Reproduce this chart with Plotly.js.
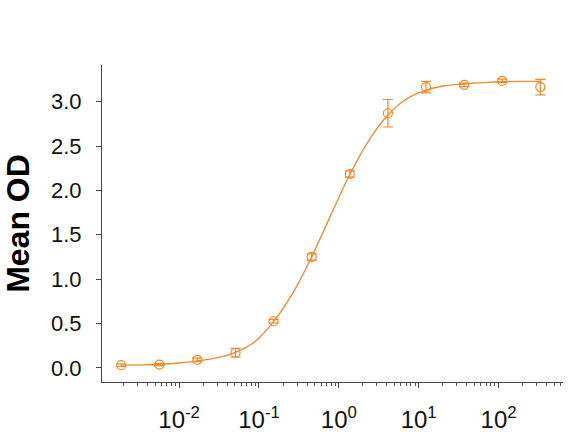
<!DOCTYPE html>
<html>
<head>
<meta charset="utf-8">
<script src="https://cdn.plot.ly/plotly-3.0.1.min.js"></script>
<style>html,body{margin:0;padding:0;background:#fff;}#chart{width:588px;height:437px;}</style>
</head>
<body>
<div id="chart"></div>
<script>
// Measured data (concentration, mean OD, error)
var concentration = [0.00188, 0.00565, 0.0169, 0.0508, 0.152, 0.457, 1.372, 4.115, 12.35, 37.04, 111.1, 333.3];
var meanOD        = [0.03, 0.037, 0.09, 0.17, 0.525, 1.25, 2.185, 2.87, 3.165, 3.19, 3.235, 3.165];
var errorOD       = [0.015, 0.012, 0.02, 0.05, 0.02, 0.035, 0.035, 0.155, 0.065, 0.02, 0.02, 0.087];

// Fitted curve
var curveX = [0.00188, 0.0035, 0.00565, 0.01, 0.0169, 0.03, 0.0508, 0.09, 0.152, 0.26, 0.457, 0.8, 1.372, 2.4, 4.115, 7, 12.35, 21, 37.04, 65, 111.1, 200, 333.3];
var curveY = [0.03, 0.034, 0.04, 0.054, 0.078, 0.115, 0.175, 0.30, 0.52, 0.83, 1.25, 1.73, 2.18, 2.57, 2.85, 3.03, 3.13, 3.18, 3.20, 3.215, 3.225, 3.23, 3.23];

var xTickVals = [0.01, 0.1, 1, 10, 100];
var xTickText = ['10<sup>-2</sup>', '10<sup>-1</sup>', '10<sup>0</sup>', '10<sup>1</sup>', '10<sup>2</sup>'];
var yTickVals = [0.0, 0.5, 1.0, 1.5, 2.0, 2.5, 3.0];
var yTickText = ['0.0', '0.5', '1.0', '1.5', '2.0', '2.5', '3.0'];

var color = '#EF8B2C';

var minorVals = [];
[-3, -2, -1, 0, 1, 2].forEach(function (e) {
  for (var m = 2; m <= 9; m++) minorVals.push(m * Math.pow(10, e));
});

var traces = [
  {
    x: curveX, y: curveY, type: 'scatter', mode: 'lines',
    line: {color: color, width: 1.3, shape: 'spline', smoothing: 1},
    hoverinfo: 'skip', showlegend: false
  },
  {
    x: concentration, y: meanOD, type: 'scatter', mode: 'markers',
    marker: {symbol: 'circle-open', size: 9, color: color, line: {color: color, width: 1.2}},
    error_y: {type: 'data', array: errorOD, visible: true, color: color, thickness: 1.2, width: 5},
    showlegend: false
  }
];

var layout = {
  width: 588, height: 437,
  margin: {l: 102, r: 25, t: 65, b: 55},
  paper_bgcolor: '#ffffff', plot_bgcolor: '#ffffff',
  showlegend: false,
  font: {family: 'Liberation Sans, Arial, sans-serif', color: '#111111'},
  xaxis: {
    type: 'log',
    range: [-2.966, 2.807],
    tickmode: 'array',
    tickvals: xTickVals,
    ticktext: xTickText,
    showgrid: false, zeroline: false,
    showline: true, linecolor: '#444444', linewidth: 1,
    ticks: 'outside', ticklen: 5, tickcolor: '#444444',
    ticklabelstandoff: 11,
    tickfont: {size: 24, color: '#111111'},
    minor: {ticks: 'outside', ticklen: 3, tickcolor: '#555555', tickmode: 'array', tickvals: minorVals, showgrid: false}
  },
  yaxis: {
    range: [-0.16, 3.414],
    tickmode: 'array',
    tickvals: yTickVals,
    ticktext: yTickText,
    showgrid: false, zeroline: false,
    showline: true, linecolor: '#444444', linewidth: 1,
    ticks: 'outside', ticklen: 5, tickcolor: '#444444',
    ticklabelstandoff: 10,
    tickfont: {size: 22, color: '#111111'},
    title: {text: '<b>Mean OD</b>', font: {size: 32, color: '#000000'}, standoff: 20}
  }
};

Plotly.newPlot('chart', traces, layout, {displayModeBar: false, staticPlot: true});
</script>
</body>
</html>
